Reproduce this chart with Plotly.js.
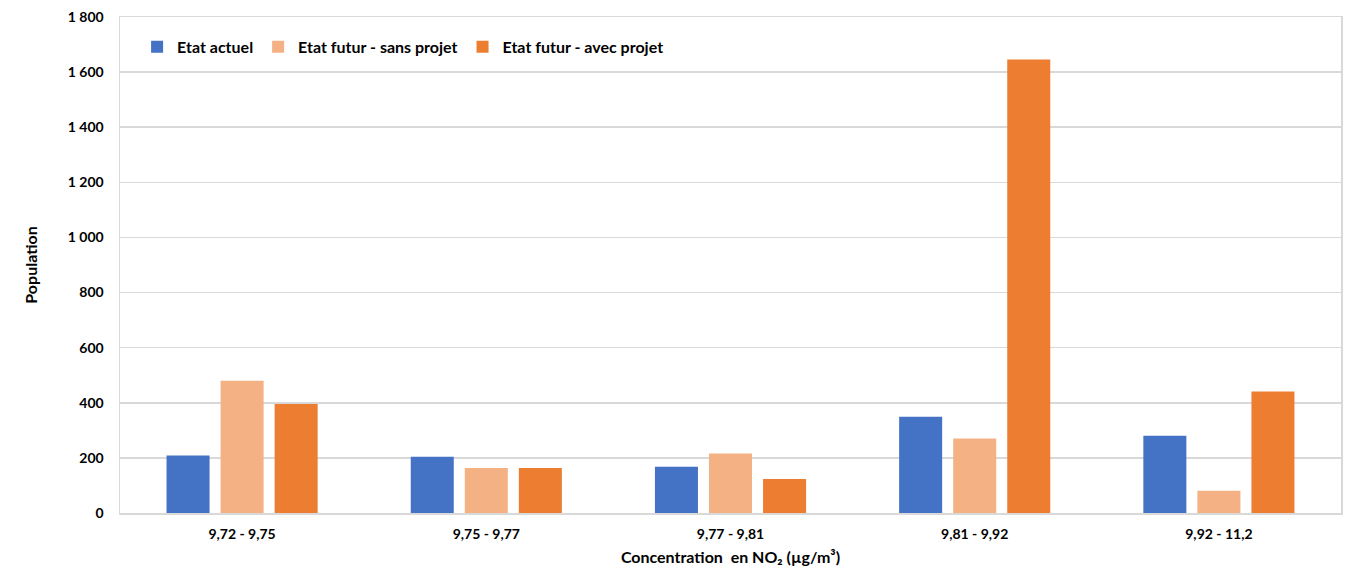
<!DOCTYPE html>
<html>
<head>
<meta charset="utf-8">
<script src="https://cdn.plot.ly/plotly-3.0.1.min.js"></script>
<style>html,body{margin:0;padding:0;background:#fff;}#chart{width:1354px;height:570px;}</style>
</head>
<body>
<div id="chart"></div>
<script>
const categories = ["9,72 - 9,75", "9,75 - 9,77", "9,77 - 9,81", "9,81 - 9,92", "9,92 - 11,2"];
const seriesNames = ["Etat actuel", "Etat futur - sans projet", "Etat futur - avec projet"];
const etatActuel = [209, 204, 168, 349, 280];
const futurSansProjet = [480, 163, 216, 270, 81];
const futurAvecProjet = [396, 163, 123, 1646, 441];
const yTickVals = [0, 200, 400, 600, 800, 1000, 1200, 1400, 1600, 1800];
const colors = ["#4472C4", "#F4B183", "#ED7D31"];

const font = "Lato, 'Open Sans', 'Liberation Sans', sans-serif";
const values = [etatActuel, futurSansProjet, futurAvecProjet];
const traces = values.map((v, i) => ({
  type: "bar",
  name: seriesNames[i],
  x: categories,
  y: v,
  marker: {color: colors[i], line: {width: 0}},
  hoverinfo: "x+y+name"
}));

const layout = {
  width: 1354,
  height: 570,
  margin: {l: 120, r: 13, t: 17, b: 57},
  paper_bgcolor: "#ffffff",
  plot_bgcolor: "#ffffff",
  separators: ", ",
  barmode: "group",
  bargap: 0.336,
  bargroupgap: 0.204,
  font: {family: font, size: 14, color: "#000"},
  showlegend: true,
  legend: {
    orientation: "h",
    x: 0.014, y: 0.94, xanchor: "left", yanchor: "middle",
    font: {family: font, size: 16, color: "#000", weight: "bold"},
    bgcolor: "rgba(0,0,0,0)",
    itemwidth: 30,
    traceorder: "normal"
  },
  xaxis: {
    type: "category",
    showgrid: false,
    showline: true, linecolor: "#D9D9D9", linewidth: 1.5, mirror: true,
    ticks: "",
    ticklabelstandoff: 8,
    tickfont: {family: font, size: 14, color: "#000", weight: "bold"},
    title: {text: "Concentration  en NO₂ (µg/m³)", font: {family: font, size: 16, color: "#000", weight: "bold"}, standoff: 10}
  },
  yaxis: {
    range: [0, 1800],
    tickvals: yTickVals,
    tickformat: ",d",
    showgrid: true, gridcolor: "#D9D9D9", gridwidth: 1.5,
    showline: true, linecolor: "#D9D9D9", linewidth: 1.5, mirror: true,
    zeroline: false,
    ticks: "",
    ticklabelstandoff: 12,
    tickfont: {family: font, size: 14, color: "#000", weight: "bold"},
    title: {text: "Population", font: {family: font, size: 16, color: "#000", weight: "bold"}, standoff: 26}
  }
};

Plotly.newPlot("chart", traces, layout, {displayModeBar: false, staticPlot: true});
</script>
</body>
</html>
